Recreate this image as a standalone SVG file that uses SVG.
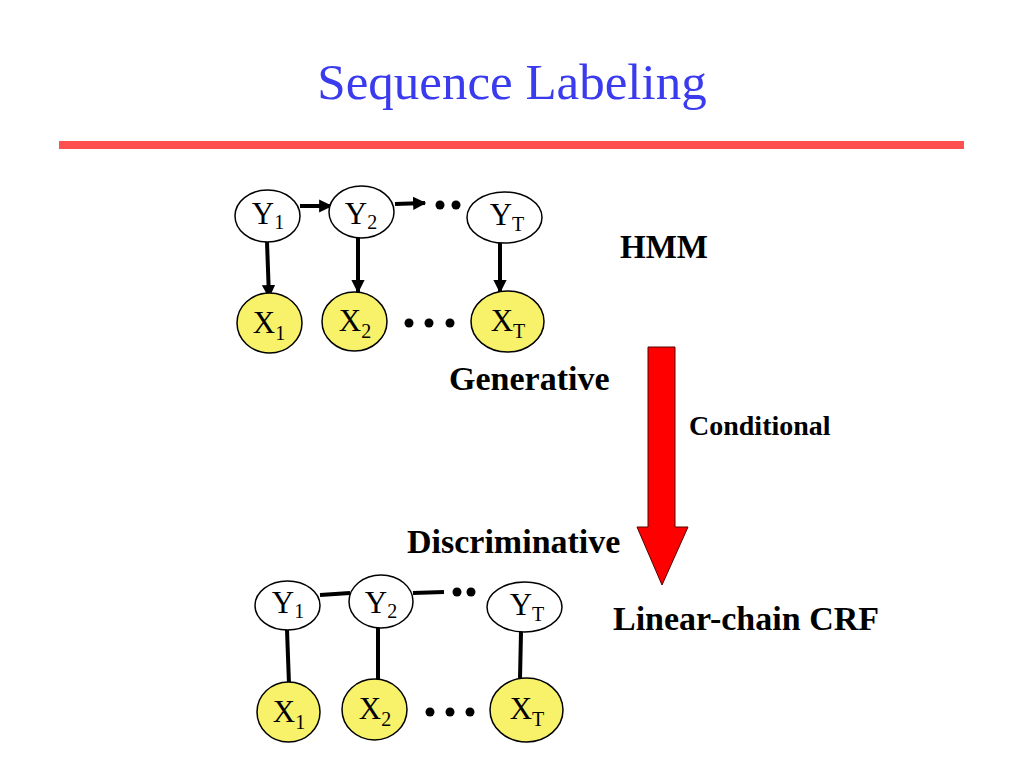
<svg xmlns="http://www.w3.org/2000/svg" width="1024" height="768" viewBox="0 0 1024 768">
<style>
.bg{fill:#ffffff}
.title{font-size:51px;fill:#3a3aee}
.lbl{font-weight:bold;fill:#000}
.y{fill:#ffffff;stroke:#000;stroke-width:1.5}
.x{fill:#f7f26a;stroke:#000;stroke-width:1.5}
.nt{font-size:31px;fill:#000;text-anchor:middle}
.sub{font-size:20px}
.edge{stroke:#000;stroke-width:4;fill:none}
.dot{fill:#000}
</style>
<defs>
<marker id="ah" viewBox="0 0 10 10" refX="9" refY="5" markerWidth="3.3" markerHeight="3.3" orient="auto" markerUnits="strokeWidth">
<path d="M0,0 L10,5 L0,10 Z" fill="#000"/>
</marker>
</defs>
<rect class="bg" x="0" y="0" width="1024" height="768"/>
<g font-family="Liberation Serif, serif">
<text class="title" x="512" y="99" text-anchor="middle">Sequence Labeling</text>
<rect x="59" y="141" width="905" height="8" fill="#ff5050"/>

<g id="connectors">
<line class="edge" x1="300" y1="206" x2="331" y2="206" marker-end="url(#ah)"/>
<line class="edge" x1="395" y1="204" x2="425" y2="203" marker-end="url(#ah)"/>
<line class="edge" x1="267" y1="242" x2="269" y2="297" marker-end="url(#ah)"/>
<line class="edge" x1="358" y1="238" x2="358" y2="292" marker-end="url(#ah)"/>
<line class="edge" x1="500" y1="243" x2="500" y2="292" marker-end="url(#ah)"/>
<line class="edge" x1="320" y1="595" x2="350" y2="593"/>
<line class="edge" x1="413" y1="593" x2="444" y2="592"/>
<line class="edge" x1="287" y1="630" x2="289" y2="684"/>
<line class="edge" x1="378" y1="628" x2="378" y2="680"/>
<line class="edge" x1="521" y1="632" x2="520" y2="679"/>
</g>

<g id="dots">
<circle class="dot" cx="440" cy="205" r="4.5"/>
<circle class="dot" cx="456" cy="205" r="4.5"/>
<circle class="dot" cx="409" cy="323" r="4.5"/>
<circle class="dot" cx="429" cy="323" r="4.5"/>
<circle class="dot" cx="450" cy="323" r="4.5"/>
<circle class="dot" cx="457" cy="592" r="4.5"/>
<circle class="dot" cx="471" cy="592" r="4.5"/>
<circle class="dot" cx="430" cy="712" r="4.5"/>
<circle class="dot" cx="450" cy="712" r="4.5"/>
<circle class="dot" cx="470" cy="712" r="4.5"/>
</g>

<g id="hmm-y1"><ellipse class="y" cx="267.5" cy="216" rx="32.5" ry="26"/><text class="nt" x="268" y="224">Y<tspan class="sub" dy="5">1</tspan></text></g>
<g id="hmm-y2"><ellipse class="y" cx="361.5" cy="212" rx="32.5" ry="26"/><text class="nt" x="361" y="224">Y<tspan class="sub" dy="5">2</tspan></text></g>
<g id="hmm-yt"><ellipse class="y" cx="504.5" cy="217.5" rx="37.5" ry="25.5"/><text class="nt" x="507" y="225">Y<tspan class="sub" dy="6">T</tspan></text></g>
<g id="hmm-x1"><ellipse class="x" cx="269.5" cy="323" rx="32.5" ry="30"/><text class="nt" x="269" y="333">X<tspan class="sub" dy="7">1</tspan></text></g>
<g id="hmm-x2"><ellipse class="x" cx="354.5" cy="321.5" rx="32.5" ry="29.5"/><text class="nt" x="355" y="331">X<tspan class="sub" dy="7">2</tspan></text></g>
<g id="hmm-xt"><ellipse class="x" cx="507.5" cy="321.5" rx="36.5" ry="30.5"/><text class="nt" x="508" y="331">X<tspan class="sub" dy="7">T</tspan></text></g>

<g id="crf-y1"><ellipse class="y" cx="287.5" cy="605.5" rx="32.5" ry="24.5"/><text class="nt" x="288" y="613">Y<tspan class="sub" dy="5">1</tspan></text></g>
<g id="crf-y2"><ellipse class="y" cx="381" cy="601.5" rx="32" ry="26.5"/><text class="nt" x="381" y="613">Y<tspan class="sub" dy="5">2</tspan></text></g>
<g id="crf-yt"><ellipse class="y" cx="524.5" cy="607" rx="37.5" ry="25"/><text class="nt" x="527" y="615">Y<tspan class="sub" dy="6">T</tspan></text></g>
<g id="crf-x1"><ellipse class="x" cx="288.5" cy="712" rx="31.5" ry="30"/><text class="nt" x="289" y="722">X<tspan class="sub" dy="7">1</tspan></text></g>
<g id="crf-x2"><ellipse class="x" cx="374.5" cy="709.5" rx="32.5" ry="30.5"/><text class="nt" x="375" y="719">X<tspan class="sub" dy="7">2</tspan></text></g>
<g id="crf-xt"><ellipse class="x" cx="526.5" cy="710" rx="36.5" ry="32"/><text class="nt" x="527" y="719">X<tspan class="sub" dy="7">T</tspan></text></g>

<g id="red-arrow">
<path d="M648,347 L675,347 L675,527 L688,527 L662,585 L637,527 L648,527 Z" fill="#ff0000" stroke="#550000" stroke-width="1"/>
</g>

<text class="lbl" x="620" y="258" font-size="33">HMM</text>
<text class="lbl" x="449" y="390" font-size="34">Generative</text>
<text class="lbl" x="689" y="435" font-size="28">Conditional</text>
<text class="lbl" x="407" y="553" font-size="34">Discriminative</text>
<text class="lbl" x="613" y="630" font-size="34">Linear-chain CRF</text>
</g>
</svg>
